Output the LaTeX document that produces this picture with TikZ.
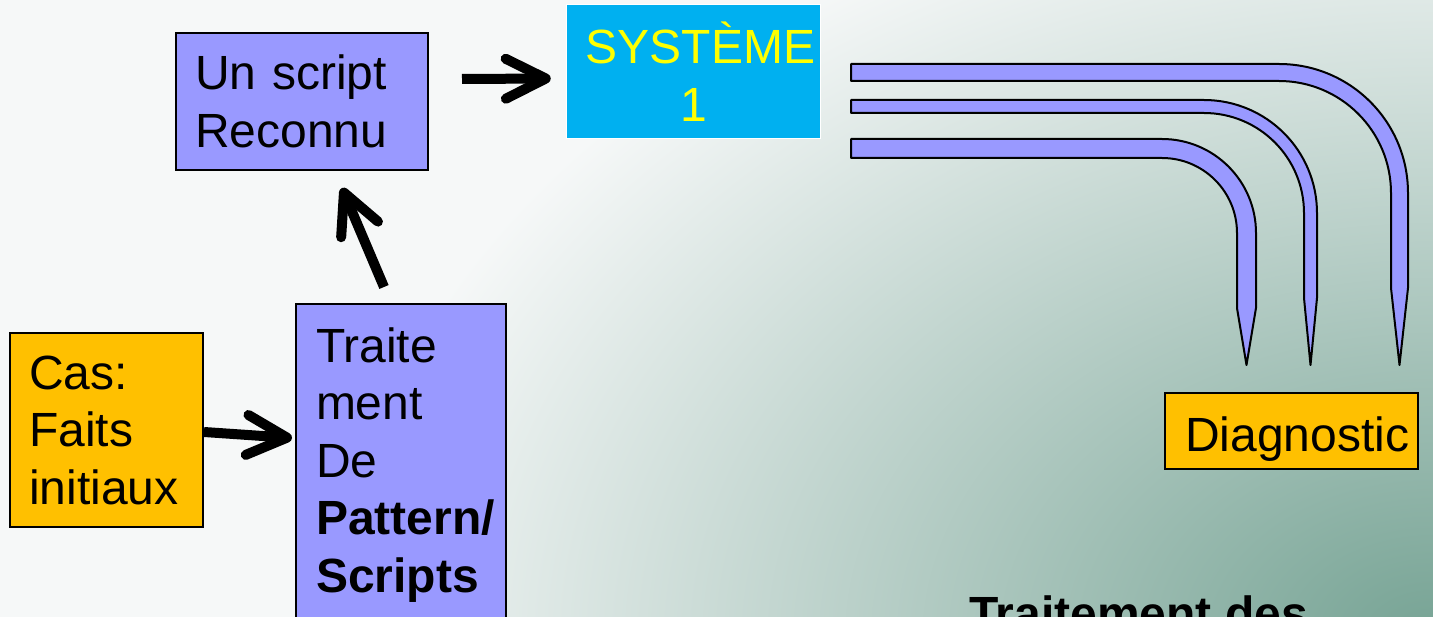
\documentclass[tikz,border=0pt]{standalone}
\usepackage{fontspec}
\setmainfont{Liberation Sans}
\usetikzlibrary{arrows.meta}
\definecolor{lavande}{RGB}{153,153,255}
\definecolor{orangebox}{RGB}{255,192,0}
\definecolor{cyanbox}{RGB}{0,176,240}
\definecolor{jaune}{RGB}{255,255,0}
\definecolor{fondclair}{RGB}{246,248,248}
\definecolor{fondvert}{RGB}{118,163,148}

\begin{document}
\begin{tikzpicture}[x=1pt, y=-1pt,
    every node/.style={font=\fontsize{48}{57.5}\selectfont},
    boite/.style={draw=black, line width=2pt, align=left, inner ysep=0pt},
    fleche/.style={line width=10pt, -{Straight Barb[length=40pt, width=40pt, round]}},
    tuyau/.style={fill=lavande, draw=black, line width=2pt, line join=round}]
  % fond
  \useasboundingbox (0,0) rectangle (1433,617);
  \clip (0,0) rectangle (1433,617);
  \fill[fondclair] (0,0) rectangle (1433,617);
  \shade[inner color=fondvert, outer color=fondclair] (1433,640) ellipse [x radius=1100, y radius=780];

  % boites
  \node[boite, fill=lavande, minimum width=252pt, minimum height=137pt,
        text width=214pt, inner xsep=19pt] (reconnu) at (302,101.5) {Un script\\Reconnu};
  \node[boite, fill=orangebox, minimum width=193pt, minimum height=194pt,
        text width=155pt, inner xsep=19pt] (cas) at (106.5,430) {Cas:\\Faits\\initiaux};
  \node[boite, fill=lavande, minimum width=210pt, minimum height=321.6pt,
        text width=170pt, inner xsep=20pt] (trait) at (401,464.8)
        {Traite\\ment\\De\\\textbf{Pattern/}\\\textbf{Scripts}};
  \node[draw=white, line width=1.5pt, fill=cyanbox, text=jaune, align=center,
        minimum width=254pt, minimum height=134pt] (systeme) at (693.5,71.5)
        {\hspace*{14pt}SYST\`EME\\1};
  \node[boite, fill=orangebox, minimum width=253pt, minimum height=76pt,
        text width=213pt, inner xsep=20pt, text height=40pt, text depth=0pt]
        (diag) at (1291.5,431.5) {Diagnostic};
  \node[anchor=base west, inner sep=0pt, font=\fontsize{48}{57.5}\selectfont\bfseries]
        (titre) at (969,630) {Traitement des};

  % fleches
  \draw[fleche] ([yshift=-2pt]cas.east) -- ([xshift=-3pt, yshift=26.8pt]trait.west);
  \draw[fleche] ([xshift=-17pt, yshift=16pt]trait.north) -- ([xshift=40pt, yshift=-17pt]reconnu.south);
  \draw[fleche] ([xshift=33pt, yshift=22.5pt]reconnu.east) -- ([xshift=-15pt, yshift=-7pt]systeme.west);

  % tuyaux
  \foreach \yt/\yb/\cx/\cy/\yc in {64/81/1279/193/288, 100/113/1204/213/298, 139/158/1162/233/308}{
    \pgfmathsetmacro\ro{\cy-\yt}
    \pgfmathsetmacro\ri{\cy-\yb}
    \filldraw[tuyau] (851,\yt) -- (\cx,\yt) arc[start angle=-90, end angle=0, radius=\ro]
      -- (\cx+\ro,\yc) -- (\cx+\ro/2+\ri/2,365) -- (\cx+\ri,\yc) -- (\cx+\ri,\cy)
      arc[start angle=0, end angle=-90, radius=\ri] -- (851,\yb) -- cycle;
  }
\end{tikzpicture}
\end{document}
